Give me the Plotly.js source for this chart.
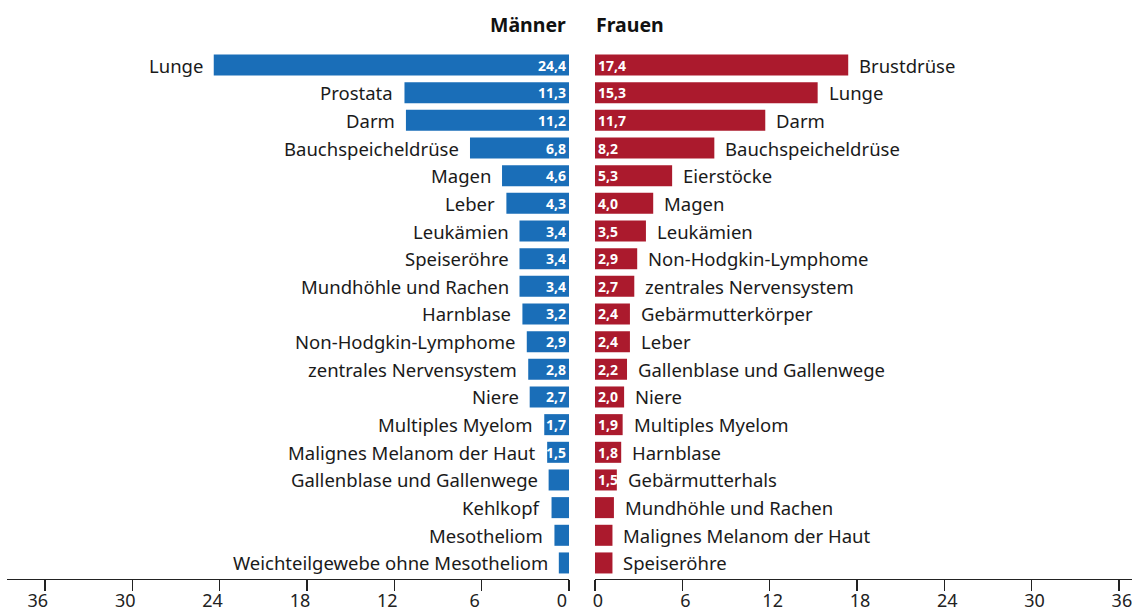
<!DOCTYPE html>
<html>
<head>
<meta charset="utf-8">
<script src="https://cdn.plot.ly/plotly-3.0.1.min.js"></script>
<style>html,body{margin:0;padding:0;background:#fff;}#chart{width:1132px;height:611px;}</style>
</head>
<body>
<div id="chart"></div>
<script>
const menCategories = ["Lunge","Prostata","Darm","Bauchspeicheldrüse","Magen","Leber","Leukämien","Speiseröhre","Mundhöhle und Rachen","Harnblase","Non-Hodgkin-Lymphome","zentrales Nervensystem","Niere","Multiples Myelom","Malignes Melanom der Haut","Gallenblase und Gallenwege","Kehlkopf","Mesotheliom","Weichteilgewebe ohne Mesotheliom"];
const menValues = [24.4,11.3,11.2,6.8,4.6,4.3,3.4,3.4,3.4,3.2,2.9,2.8,2.7,1.7,1.5,1.4,1.2,1.0,0.7];
const womenCategories = ["Brustdrüse","Lunge","Darm","Bauchspeicheldrüse","Eierstöcke","Magen","Leukämien","Non-Hodgkin-Lymphome","zentrales Nervensystem","Gebärmutterkörper","Leber","Gallenblase und Gallenwege","Niere","Multiples Myelom","Harnblase","Gebärmutterhals","Mundhöhle und Rachen","Malignes Melanom der Haut","Speiseröhre"];
const womenValues = [17.4,15.3,11.7,8.2,5.3,4.0,3.5,2.9,2.7,2.4,2.4,2.2,2.0,1.9,1.8,1.5,1.3,1.2,1.2];
const tickValues = [0,6,12,18,24,30,36];
const headers = ["Männer","Frauen"];

const BLUE = "#1a6eb8", RED = "#ab1a2d";
const FONT = "Noto Sans";
const fmt = v => v >= 1.5 ? v.toFixed(1).replace(".", ",") : "";
const rowsM = menValues.map((_, i) => i);
const rowsW = womenValues.map((_, i) => i);

const barCommon = {type:"bar", orientation:"h", yaxis:"y", width:0.76, textposition:"inside",
  insidetextanchor:"start", textangle:0, constraintext:"none",
  textfont:{family:FONT, size:14, color:"#fff", weight:"bold"}, hoverinfo:"skip", cliponaxis:false};
const traces = [
  Object.assign({}, barCommon, {x:menValues, y:rowsM, xaxis:"x", marker:{color:BLUE}, text:menValues.map(fmt)}),
  Object.assign({}, barCommon, {x:womenValues, y:rowsW, xaxis:"x2", marker:{color:RED}, text:womenValues.map(fmt)})
];

const annotations = [];
menCategories.forEach((c, i) => annotations.push({xref:"x", yref:"y", x:menValues[i], y:i, text:c,
  showarrow:false, xanchor:"right", xshift:-9, font:{family:FONT, size:18.5, color:"#1a1a1a"}}));
womenCategories.forEach((c, i) => annotations.push({xref:"x2", yref:"y", x:womenValues[i], y:i, text:c,
  showarrow:false, xanchor:"left", xshift:9, font:{family:FONT, size:18.5, color:"#1a1a1a"}}));
annotations.push({xref:"paper", yref:"paper", x:568/1132, y:(611-24)/611, text:headers[0], showarrow:false,
  xanchor:"right", yanchor:"middle", font:{family:FONT, size:19.5, color:"#111", weight:"bold"}});
annotations.push({xref:"paper", yref:"paper", x:594/1132, y:(611-24)/611, text:headers[1], showarrow:false,
  xanchor:"left", yanchor:"middle", font:{family:FONT, size:19.5, color:"#111", weight:"bold"}});

const axisCommon = {tickvals:tickValues, ticks:"outside", ticklen:11, tickwidth:1.3, tickcolor:"#222",
  showline:true, linecolor:"#222", linewidth:1.3, showgrid:false, zeroline:false,
  tickfont:{family:FONT, size:18, color:"#222"}, ticklabelstandoff:-6, ticklabeloverflow:"allow",
  fixedrange:true};

const layout = {
  width:1132, height:611, margin:{l:0, r:0, t:0, b:0},
  paper_bgcolor:"#fff", plot_bgcolor:"#fff", showlegend:false, barmode:"overlay",
  xaxis:Object.assign({}, axisCommon, {domain:[7/1132, 569/1132], range:[38.6, 0], anchor:"y", ticklabelshift:7}),
  xaxis2:Object.assign({}, axisCommon, {domain:[595/1132, 1], range:[0, 36.9], anchor:"y", ticklabelshift:3}),
  yaxis:{domain:[(611-579)/611, (611-51.2)/611], range:[18.58, -0.5], visible:false, fixedrange:true},
  annotations:annotations
};
Plotly.newPlot("chart", traces, layout, {staticPlot:true, displayModeBar:false});
</script>
</body>
</html>
